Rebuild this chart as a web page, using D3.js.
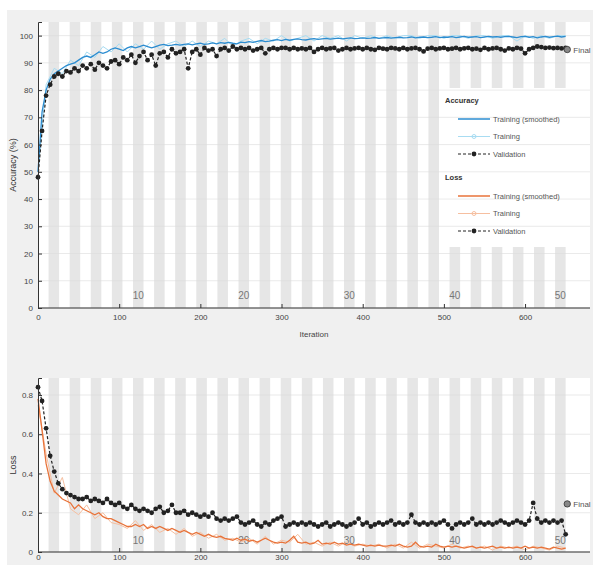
<!DOCTYPE html>
<html>
<head>
<meta charset="utf-8">
<script src="https://cdn.jsdelivr.net/npm/d3@7"></script>
<style>
body { margin: 0; background: #fff; }
text { font-family: "Liberation Sans", Arial, sans-serif; }
</style>
</head>
<body>
<svg id="chart" width="593" height="565"></svg>
<script>
// iterations: smoothed + validation every 5, raw training every 10
const step = 5, rawStep = 10;
const itersPerEpoch = 13, numEpochs = 50;
const epochLabels = [10, 20, 30, 40, 50];

const accSmooth = [50,72,80,84,86,87,88,89,89.5,90,91,92,92.5,92,93,94,93.5,94,95,95.5,
  95,94.5,95.5,96,95.5,96,96.5,96,95.5,96,96.5,96.8,96.3,96.5,96.8,96.5,96.8,97,96.6,97,
  97.2,96.8,97,97.3,97,97.4,97.2,97.5,97.2,97,97.6,97.4,97.8,97.5,97.9,98.2,97.8,98,98.3,98.5,
  98.2,98.6,98.3,98.6,98.8,98.5,98.4,98.7,98.9,98.6,98.8,99,98.7,98.9,99.1,98.8,99,99.2,98.9,99,
  99.2,99,99.1,99.3,99,99.2,99.3,99.1,99.3,99.4,99.2,99.3,99.5,99.2,99.4,99.5,99.3,99.4,99.6,99.3,
  99.5,99.4,99.6,99.3,99.5,99.7,99.4,99.5,99.6,99.3,99.5,99.7,99.5,99.6,99.4,99.6,99.7,99.5,99.3,99.6,
  99.7,99.4,99.6,99.2,99.5,99.7,99.4,99.6,99.8,99.5,99.7];
const accRaw = [50,82,88,86,91,89,94,92,96,94,97,94,97,95,98,95,97,98,96,98,
  96,98,97,99,96,98,99,97,99,98,100,98,99,100,98,100,99,100,98,100,
  99,100,99,100,99,100,100,99,100,100,99,100,100,99,100,100,99,100,100,98,
  100,99,100,99,100,100];
const accVal = [48,65,78,82,85,86,85,87,86.5,88,87,89,88,89.5,87.5,90,89,88,90.5,91,
  89.5,92,91,93,90,92.5,94,91,93,89,93.5,94,92,95,93.5,94,95,88,94,95,
  93,95.5,94.5,95,92.5,95,95.5,94.5,96,95,95.5,95,95.5,94.5,95,95.5,93.5,95,95.5,95,
  95.5,95.5,95,95.5,95,95.3,95,95.5,94,95,95.5,95,95.3,95.5,94.5,95,95.5,95,95.3,95.5,
  95,95.5,95,94.8,95.5,95.2,95,95.5,95.3,95,95.5,95,95.3,95.5,95,94.2,95.2,95.5,95,95.3,
  95.5,95,95.2,95.5,95,95.3,95.5,95,95.2,94.8,95.5,95,95.3,95.5,95,94.5,95.3,95,95.5,95.2,
  93.5,95,95.5,96,95.8,95.5,95.6,95.4,95.5,95.3,95.5];
const accFinal = 94.9;

const lossSmooth = [0.78,0.62,0.45,0.36,0.31,0.29,0.27,0.26,0.25,0.22,0.24,0.22,0.21,0.2,0.19,0.2,0.18,0.17,0.17,0.16,
  0.15,0.14,0.13,0.13,0.14,0.13,0.14,0.12,0.13,0.12,0.13,0.12,0.11,0.12,0.11,0.1,0.11,0.1,0.09,0.1,
  0.09,0.08,0.09,0.08,0.075,0.08,0.07,0.065,0.06,0.07,0.06,0.065,0.055,0.06,0.05,0.06,0.07,0.06,0.05,0.045,
  0.05,0.045,0.06,0.08,0.05,0.045,0.05,0.04,0.045,0.06,0.04,0.045,0.04,0.05,0.04,0.045,0.035,0.04,0.035,0.04,
  0.035,0.03,0.035,0.03,0.035,0.03,0.03,0.035,0.03,0.04,0.03,0.025,0.03,0.05,0.03,0.025,0.03,0.025,0.04,0.03,
  0.025,0.03,0.025,0.03,0.025,0.02,0.025,0.03,0.02,0.025,0.02,0.025,0.03,0.02,0.025,0.02,0.025,0.02,0.025,0.02,
  0.03,0.02,0.025,0.02,0.025,0.02,0.015,0.025,0.02,0.015,0.02];
const lossRaw = [0.75,0.5,0.3,0.38,0.22,0.19,0.24,0.17,0.2,0.15,0.14,0.12,0.16,0.11,0.14,0.1,0.12,0.09,0.12,0.08,
  0.1,0.07,0.09,0.06,0.07,0.05,0.07,0.04,0.08,0.04,0.06,0.05,0.09,0.04,0.05,0.03,0.05,0.03,0.05,0.03,
  0.04,0.03,0.04,0.02,0.04,0.02,0.05,0.02,0.04,0.03,0.02,0.04,0.02,0.03,0.02,0.03,0.01,0.03,0.02,0.03,
  0.01,0.03,0.02,0.01,0.03,0.02];
const lossVal = [0.84,0.77,0.63,0.49,0.41,0.35,0.32,0.3,0.29,0.28,0.27,0.27,0.28,0.26,0.27,0.26,0.25,0.27,0.25,0.24,
  0.25,0.23,0.22,0.24,0.22,0.21,0.22,0.21,0.2,0.22,0.23,0.2,0.21,0.24,0.2,0.2,0.21,0.19,0.2,0.19,
  0.18,0.19,0.18,0.2,0.17,0.16,0.17,0.16,0.17,0.18,0.15,0.14,0.15,0.16,0.14,0.13,0.15,0.14,0.16,0.17,
  0.18,0.13,0.14,0.15,0.14,0.15,0.14,0.15,0.14,0.13,0.14,0.15,0.13,0.14,0.15,0.14,0.13,0.14,0.15,0.17,
  0.14,0.15,0.13,0.14,0.15,0.14,0.15,0.16,0.14,0.15,0.14,0.15,0.19,0.15,0.14,0.15,0.14,0.15,0.14,0.15,
  0.16,0.14,0.12,0.14,0.15,0.14,0.15,0.17,0.14,0.15,0.14,0.15,0.14,0.15,0.16,0.15,0.14,0.15,0.16,0.15,
  0.14,0.16,0.25,0.17,0.15,0.16,0.15,0.16,0.15,0.16,0.09];
const lossFinal = 0.245;

const accTicks = [0,10,20,30,40,50,60,70,80,90,100];
const lossTicks = [0,0.2,0.4,0.6,0.8];
const iterTicks = [0,100,200,300,400,500,600];

const svg = d3.select("#chart");
svg.append("rect").attr("x", 7).attr("y", 10).attr("width", 586).attr("height", 555).attr("fill", "#f0f0f0");

const x = d3.scaleLinear().domain([0, 680]).range([38, 590]);
const lastIter = itersPerEpoch * numEpochs;

function toPts(arr, s) { return arr.map((v, i) => [i * s, v]); }

function panel(cfg) {
  const y = cfg.y;
  const g = svg.append("g");
  const [y0, y1] = y.range();
  g.append("rect").attr("x", x(0)).attr("y", y1).attr("width", x.range()[1] - x(0)).attr("height", y0 - y1).attr("fill", "#fff");

  // epoch bands
  const bands = d3.range(1, numEpochs, 2);
  bands.forEach(e => {
    const bx = x(e * itersPerEpoch), bw = x((e + 1) * itersPerEpoch) - bx;
    if (cfg.hole && bx >= cfg.hole.x) {
      g.append("rect").attr("x", bx).attr("y", y1).attr("width", bw).attr("height", cfg.hole.y0 - y1).attr("fill", "#e6e6e6");
      g.append("rect").attr("x", bx).attr("y", cfg.hole.y1).attr("width", bw).attr("height", y0 - cfg.hole.y1).attr("fill", "#e6e6e6");
    } else {
      g.append("rect").attr("x", bx).attr("y", y1).attr("width", bw).attr("height", y0 - y1).attr("fill", "#e6e6e6");
    }
  });

  // grid
  g.selectAll(".grid").data(cfg.ticks).enter().append("line")
    .attr("x1", x(0)).attr("x2", x.range()[1]).attr("y1", d => y(d)).attr("y2", d => y(d))
    .attr("stroke", "#dcdcdc").attr("stroke-width", 0.6);

  // epoch labels
  g.selectAll(".ep").data(epochLabels).enter().append("text")
    .attr("x", d => x((d - 0.5) * itersPerEpoch)).attr("y", cfg.epochY)
    .attr("text-anchor", "middle").attr("font-size", 10).attr("fill", "#777").text(d => d);

  const line = d3.line().x(d => x(d[0])).y(d => y(d[1]));
  g.append("path").datum(toPts(cfg.raw, rawStep)).attr("d", line)
    .attr("fill", "none").attr("stroke", cfg.rawColor).attr("stroke-width", 1);
  g.append("path").datum(toPts(cfg.smooth, step)).attr("d", line)
    .attr("fill", "none").attr("stroke", cfg.color).attr("stroke-width", 1.3);
  const vp = toPts(cfg.val, step);
  g.append("path").datum(vp).attr("d", line)
    .attr("fill", "none").attr("stroke", "#222").attr("stroke-width", 1.2).attr("stroke-dasharray", "3,2");
  g.selectAll(".vd").data(vp).enter().append("circle")
    .attr("cx", d => x(d[0])).attr("cy", d => y(d[1])).attr("r", 2.4).attr("fill", "#222");

  // final marker
  g.append("circle").attr("cx", x(lastIter + 2)).attr("cy", y(cfg.final)).attr("r", 3.2)
    .attr("fill", "#888").attr("stroke", "#333").attr("stroke-width", 0.8);
  g.append("text").attr("x", x(lastIter + 2) + 6).attr("y", y(cfg.final) + 3)
    .attr("font-size", 8).attr("fill", "#555").text("Final");

  // axes
  const ax = g.append("g").attr("transform", `translate(0,${y0})`)
    .call(d3.axisBottom(x).tickValues(iterTicks).tickSize(-4).tickPadding(cfg.xPad));
  const ay = g.append("g").attr("transform", `translate(${x(0)},0)`)
    .call(d3.axisLeft(y).tickValues(cfg.ticks).tickSize(-4).tickPadding(5).tickFormat(cfg.fmt));
  [ax, ay].forEach(a => {
    a.select(".domain").attr("stroke", "#333");
    a.selectAll(".tick line").attr("stroke", "#333");
    a.selectAll("text").attr("font-size", 8).attr("fill", "#444").attr("font-family", "Liberation Sans, Arial, sans-serif");
  });
  ax.select(".domain").attr("d", `M${x(0)},0H${x.range()[1]}`);

  g.append("text").attr("transform", `translate(16,${(y0 + y1) / 2}) rotate(-90)`)
    .attr("text-anchor", "middle").attr("font-size", 9).attr("fill", "#333").text(cfg.label);
  return g;
}

const yAcc = d3.scaleLinear().domain([0, 105]).range([308, 22]);
panel({ y: yAcc, ticks: accTicks, fmt: d3.format("d"), smooth: accSmooth, raw: accRaw, val: accVal,
  final: accFinal, color: "#2b8cd0", rawColor: "#a8dcf2", label: "Accuracy (%)", epochY: 299, xPad: 6,
  hole: { x: 440, y0: 88, y1: 247 } });
svg.append("text").attr("x", 314).attr("y", 337).attr("text-anchor", "middle")
  .attr("font-size", 8).attr("fill", "#444").text("Iteration");

const yLoss = d3.scaleLinear().domain([0, 0.8866]).range([552, 378]);
panel({ y: yLoss, ticks: lossTicks, fmt: d => d === 0 ? "0" : d3.format(".1f")(d), smooth: lossSmooth, raw: lossRaw, val: lossVal,
  final: lossFinal, color: "#e8733a", rawColor: "#f6bfa0", label: "Loss", epochY: 544, xPad: 2 });

// legend
const legend = svg.append("g");
const sections = [
  { title: "Accuracy", y: 103, color: "#2b8cd0", rawColor: "#a8dcf2" },
  { title: "Loss", y: 180, color: "#e8733a", rawColor: "#f6bfa0" }
];
const entries = ["Training (smoothed)", "Training", "Validation"];
sections.forEach(s => {
  legend.append("text").attr("x", 445).attr("y", s.y).attr("font-size", 7.5)
    .attr("font-weight", "bold").attr("fill", "#333").text(s.title);
  entries.forEach((name, i) => {
    const ly = s.y + 16 + i * 17.5;
    const l = legend.append("line").attr("x1", 458).attr("x2", 490).attr("y1", ly).attr("y2", ly);
    if (i === 0) l.attr("stroke", s.color).attr("stroke-width", 1.5);
    if (i === 1) {
      l.attr("stroke", s.rawColor).attr("stroke-width", 1);
      legend.append("circle").attr("cx", 474).attr("cy", ly).attr("r", 2).attr("fill", "none").attr("stroke", s.rawColor);
    }
    if (i === 2) {
      l.attr("stroke", "#222").attr("stroke-width", 1).attr("stroke-dasharray", "3,2");
      legend.append("circle").attr("cx", 474).attr("cy", ly).attr("r", 2.4).attr("fill", "#222");
    }
    legend.append("text").attr("x", 493).attr("y", ly + 2.5).attr("font-size", 7.5)
      .attr("fill", "#555").text(name);
  });
});
</script>
</body>
</html>
